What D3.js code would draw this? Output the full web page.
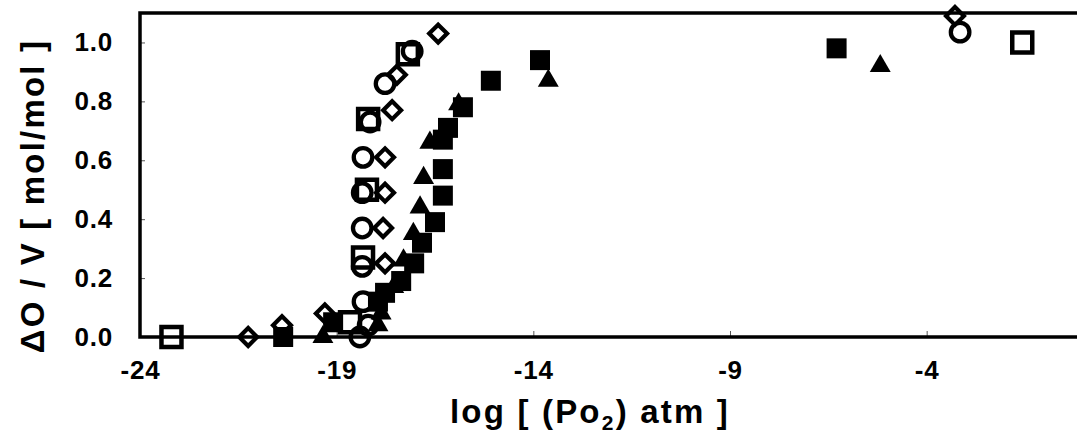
<html lang="en">
    <head>
        <meta charset="utf-8">
        <title>Oxygen nonstoichiometry</title>
        <style>
            body {
                padding: 0;
                margin: 0;
                background-color: white;
            }
            svg {
                background-color: white;
                display: block;
            }
            .tick text {
                font-family: "Liberation Sans", Arial, sans-serif;
                font-weight: bold;
                font-size: 26px;
                letter-spacing: 0.8px;
                fill: #000;
            }
            .tick line {
                stroke: #555;
                stroke-width: 1px;
            }
            .title {
                font-family: "Liberation Sans", Arial, sans-serif;
                font-weight: bold;
                font-size: 33px;
                letter-spacing: 2.2px;
                fill: #000;
            }
        </style>
    </head>
    <body>
        <div id="chart"></div>

    <script src="https://cdnjs.cloudflare.com/ajax/libs/d3/7.8.5/d3.min.js"></script>
    <script type="text/javascript">

        // data: [log pO2, dO/V]
        var openSquares = [[-23.2, 0.0], [-18.66, 0.05], [-18.33, 0.27], [-18.23, 0.50], [-18.2, 0.74], [-17.19, 0.96], [-1.57, 1.0]];
        var openCircles = [[-18.41, 0.0], [-18.2, 0.04], [-18.33, 0.12], [-18.35, 0.24], [-18.35, 0.37], [-18.35, 0.49], [-18.33, 0.61], [-18.15, 0.73], [-17.77, 0.86], [-17.08, 0.97], [-3.15, 1.035]];
        var openDiamonds = [[-21.25, 0.0], [-20.39, 0.04], [-19.3, 0.08], [-17.77, 0.25], [-17.82, 0.37], [-17.77, 0.49], [-17.77, 0.61], [-17.59, 0.77], [-17.47, 0.89], [-16.42, 1.03], [-3.28, 1.09]];
        var filledSquares = [[-20.36, 0.0], [-19.09, 0.05], [-17.95, 0.12], [-17.77, 0.15], [-17.36, 0.19], [-17.03, 0.25], [-16.83, 0.32], [-16.5, 0.39], [-16.3, 0.48], [-16.3, 0.57], [-16.3, 0.67], [-16.17, 0.71], [-15.79, 0.78], [-15.08, 0.87], [-13.83, 0.94], [-6.29, 0.98]];
        var filledTriangles = [[-19.35, 0.0], [-17.95, 0.04], [-17.87, 0.08], [-17.55, 0.17], [-17.3, 0.26], [-17.05, 0.35], [-16.88, 0.44], [-16.79, 0.54], [-16.63, 0.66], [-15.9, 0.79], [-13.62, 0.87], [-5.18, 0.92]];

        var xTicks = [-24, -19, -14, -9, -4];
        var yTicks = [0, 0.2, 0.4, 0.6, 0.8, 1.0];

        var width = 1077;
        var height = 434;
        var plotLeft = 140, plotTop = 13, plotBottom = 337;

        var svg = d3.select("#chart")
                    .append("svg")
                    .attr("width", width)
                    .attr("height", height);

        var x = d3.scaleLinear().domain([-24, 0]).range([plotLeft, 1084]);
        var y = d3.scaleLinear().domain([0, 1.1]).range([plotBottom, plotTop]);

        // axes (ticks point inward), plain hyphen for minus
        svg.append("g")
            .attr("transform", "translate(0," + plotBottom + ")")
            .call(d3.axisBottom(x).tickValues(xTicks).tickSize(-6).tickPadding(24)
                .tickFormat(function(d){ return String(d); }))
            .call(function(g){ g.select(".domain").remove(); });

        svg.append("g")
            .attr("transform", "translate(" + plotLeft + ",0)")
            .call(d3.axisLeft(y).tickValues(yTicks).tickSize(-5).tickPadding(27).tickFormat(d3.format(".1f")))
            .call(function(g){ g.select(".domain").remove(); });

        // frame: top, left and bottom lines
        svg.append("path")
            .attr("d", "M" + width + "," + plotTop + "H" + plotLeft + "V" + plotBottom + "H" + width)
            .attr("stroke", "#000")
            .attr("stroke-width", 3.5)
            .attr("fill", "none");

        var sym = function(type, size){ return d3.symbol().type(type).size(size)(); };

        function plot(data, path, opts){
            svg.append("g").selectAll("path")
                .data(data)
                .enter()
                .append("path")
                .attr("d", path)
                .attr("transform", function(d){
                    return "translate(" + x(d[0]) + "," + y(d[1]) + ")" + (opts.rotate ? " rotate(45)" : "");
                })
                .attr("fill", opts.fill)
                .attr("stroke", "#000")
                .attr("stroke-width", opts.sw);
        }

        plot(filledSquares, sym(d3.symbolSquare, 400), {fill: "#000", sw: 0});
        plot(filledTriangles, sym(d3.symbolTriangle, 190), {fill: "#000", sw: 0});
        plot(openSquares, sym(d3.symbolSquare, 400), {fill: "none", sw: 4.5});
        plot(openDiamonds, sym(d3.symbolSquare, 160), {fill: "none", sw: 4.2, rotate: true});
        plot(openCircles, sym(d3.symbolCircle, 270), {fill: "none", sw: 4.3});

        // titles
        var xt = svg.append("text")
            .attr("class", "title")
            .attr("x", 590)
            .attr("y", 423)
            .attr("text-anchor", "middle");
        xt.append("tspan").text("log [ (Po");
        xt.append("tspan").attr("dy", 7).style("font-size", "21px").text("2");
        xt.append("tspan").attr("dy", -7).text(") atm ]");

        svg.append("text")
            .attr("class", "title")
            .attr("transform", "translate(44,196) rotate(-90)")
            .attr("text-anchor", "middle")
            .text("ΔO / V [ mol/mol ]");

    </script>
    </body>
</html>
